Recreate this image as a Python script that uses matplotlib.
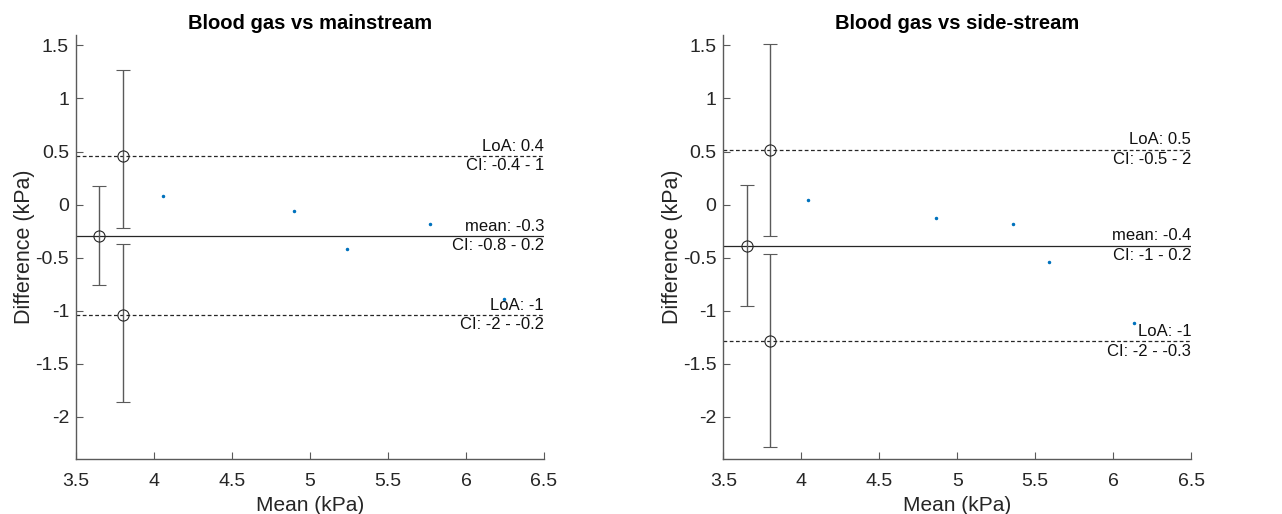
import matplotlib
matplotlib.use("Agg")
import matplotlib.pyplot as plt

plt.rcParams["font.family"] = ["Liberation Sans", "DejaVu Sans"]

# Bland-Altman data
titles = ["Blood gas vs mainstream", "Blood gas vs side-stream"]
means = [
    [4.06, 4.90, 5.24, 5.77, 6.245],
    [4.04, 4.865, 5.36, 5.59, 6.13],
]
diffs = [
    [0.078, -0.063, -0.42, -0.18, -0.89],
    [0.044, -0.13, -0.185, -0.54, -1.12],
]
bias = [-0.295, -0.386]
bias_ci = [(-0.76, 0.176), (-0.96, 0.185)]
loa_upper = [0.455, 0.518]
loa_upper_ci = [(-0.22, 1.27), (-0.30, 1.516)]
loa_lower = [-1.04, -1.29]
loa_lower_ci = [(-1.86, -0.37), (-2.285, -0.47)]
bias_labels = [("mean: -0.3", "CI: -0.8 - 0.2"), ("mean: -0.4", "CI: -1 - 0.2")]
upper_labels = [("LoA: 0.4", "CI: -0.4 - 1"), ("LoA: 0.5", "CI: -0.5 - 2")]
lower_labels = [("LoA: -1", "CI: -2 - -0.2"), ("LoA: -1", "CI: -2 - -0.3")]
bias_x = 3.65
loa_x = 3.80

xticks = [3.5, 4, 4.5, 5, 5.5, 6, 6.5]
xticklabels = ["3.5", "4", "4.5", "5", "5.5", "6", "6.5"]
yticks = [-2, -1.5, -1, -0.5, 0, 0.5, 1, 1.5]
yticklabels = ["-2", "-1.5", "-1", "-0.5", "0", "0.5", "1", "1.5"]

AX_GRAY = "#5a5a5a"
LINE = "#262626"
DOT = "#0072BD"

fig = plt.figure(figsize=(12.82, 5.14), dpi=100)
lefts = [0.0593, 0.5642]

for i in range(2):
    ax = fig.add_axes([lefts[i], 0.1064, 0.365, 0.826])

    ax.plot(means[i], diffs[i], ".", color=DOT, markersize=3)

    ax.axhline(bias[i], color=LINE, lw=0.9)
    ax.axhline(loa_upper[i], color=LINE, lw=0.9, ls=(0, (3, 2)))
    ax.axhline(loa_lower[i], color=LINE, lw=0.9, ls=(0, (3, 2)))

    # CI error bars for bias and limits of agreement
    for x, y, ci in [(bias_x, bias[i], bias_ci[i]),
                     (loa_x, loa_upper[i], loa_upper_ci[i]),
                     (loa_x, loa_lower[i], loa_lower_ci[i])]:
        ax.errorbar([x], [y], yerr=[[y - ci[0]], [ci[1] - y]], fmt="o",
                    mfc="none", mec=LINE, ms=8, mew=0.8,
                    ecolor=AX_GRAY, elinewidth=1, capsize=5, capthick=1)

    for y, (top, bottom) in [(bias[i], bias_labels[i]),
                             (loa_upper[i], upper_labels[i]),
                             (loa_lower[i], lower_labels[i])]:
        ax.text(6.5, y + 0.02, top, ha="right", va="bottom", fontsize=12, color="#111111")
        ax.text(6.5, y - 0.02, bottom, ha="right", va="top", fontsize=12, color="#111111")

    ax.set_xlim(3.5, 6.5)
    ax.set_ylim(-2.4, 1.6)
    ax.set_xticks(xticks)
    ax.set_xticklabels(xticklabels)
    ax.set_yticks(yticks)
    ax.set_yticklabels(yticklabels)
    ax.tick_params(direction="in", length=5, width=0.8, colors=AX_GRAY,
                   labelcolor="#262626", labelsize=14)
    ax.tick_params(axis="x", pad=10)
    ax.tick_params(axis="y", pad=5)
    for side in ["top", "right"]:
        ax.spines[side].set_visible(False)
    for side in ["left", "bottom"]:
        ax.spines[side].set_color(AX_GRAY)
        ax.spines[side].set_linewidth(1)

    ax.set_title(titles[i], fontsize=14.5, fontweight="bold", pad=4)
    ax.set_xlabel("Mean (kPa)", fontsize=15, color="#262626", labelpad=4)
    ax.set_ylabel("Difference (kPa)", fontsize=15.5, color="#262626", labelpad=0)

fig.savefig("out.png", dpi=100)
